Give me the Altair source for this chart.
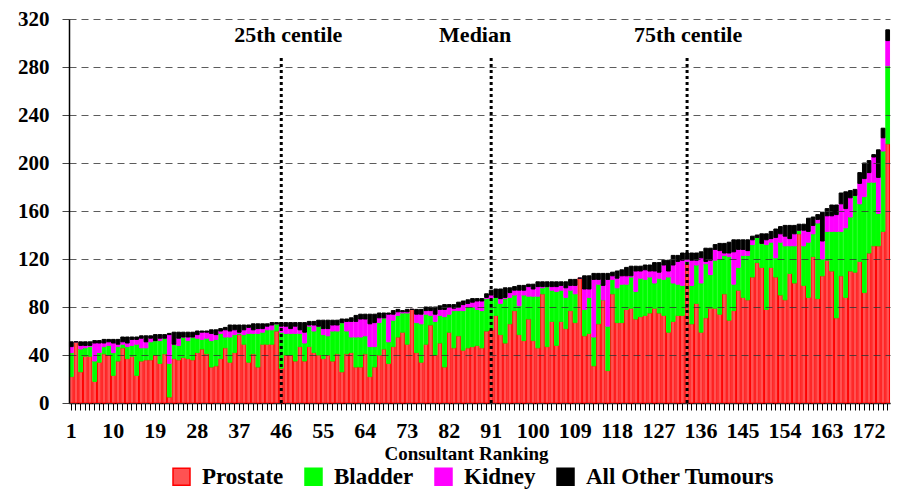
import altair as alt
import pandas as pd

ranks = list(range(1, 177))

prostate = [22,51,26,39,39, 18,34,41,40,23, 35,46,37,39,23, 35,36,36,40,33, 41,5,37,36,38, 37,36,42,45,41, 30,31,37,46,34, 42,57,49,34,41, 30,49,49,49,60,
            29,40,40,35,47, 35,47,42,40,37, 40,35,41,26,41, 42,30,30,41,22, 30,40,45,33,47, 55,59,49,78,42, 34,49,65,40,50, 30,59,46,56,44, 46,47,48,46,60,
            61,73,57,50,66, 77,57,52,70,52, 46,91,47,68,48, 68,62,77,67,104, 56,58,31,66,86, 27,91,67,67,78, 79,70,72,73,75, 79,75,73,59,68, 73,73,116,
            66,83,59,71,79, 79,74,91,69,77, 94,88,86,105,117, 113,78,113,105,90,
            86,108,100,141,98, 88,122,87,106,119, 110,71,106,88,110, 109,118,92,125,131, 131,143,216]
bladder = [20,0,19,7,8, 17,8,6,8,19, 12,3,10,9,26, 11,10,15,12,19, 13,28,12,12,17, 15,19,12,8,13, 22,22,21,9,21, 15,1,8,24,17, 28,10,12,12,6,
           30,18,18,23,11, 15,17,18,24,20, 16,25,19,41,19, 13,25,25,15,25, 17,27,26,18,22, 18,16,26,0,25, 32,25,8,28,23, 42,15,31,21,33, 34,33,30,31,27,
           26,15,26,37,22, 13,24,38,19,37, 43,5,50,26,45, 26,26,17,24,0, 22,30,24,33,0, 37,12,29,32,21, 26,23,32,30,30, 21,29,30,46,32, 26,25,2,
           32,32,41,45,28, 40,46,32,53,22, 19,35,37,27,21, 20,54,21,16,44,
           45,23,31,3,33, 46,19,63,14,24, 33,72,37,58,45, 64,48,80,59,53, 27,67,65]
kidney = [5,0,3,2,1, 15,8,3,3,8, 2,2,3,5,4, 8,5,3,0,2, 0,24,0,6,0, 3,0,3,6,5, 6,4,2,6,5, 4,1,4,5,3, 4,3,3,4,0,
          5,6,4,6,3, 9,1,5,0,5, 6,5,5,0,8, 13,13,15,14,19, 20,4,0,23,5, 3,1,1,0,7, 8,3,4,6,5, 6,6,2,3,5, 3,4,7,8,1,
          3,0,4,1,4, 4,13,4,8,6, 8,1,0,3,4, 4,8,4,7,0, 17,7,48,4,12, 39,3,8,7,7, 1,17,6,8,5, 10,5,12,5,15, 19,21,2,
          21,4,21,2,12, 9,7,2,3,27, 15,5,4,4,0, 0,4,3,17,7,
          8,6,10,0,13, 9,7,3,15,13, 13,14,23,16,16, 0,17,15,8,21, 30,11,21]
other = [4,0,3,3,3, 2,2,3,2,3, 4,4,5,2,2, 2,5,2,5,3, 3,1,10,5,4, 4,4,3,1,1, 3,4,2,2,5, 4,6,4,2,5, 4,4,2,2,1,
         3,3,5,3,6, 8,3,3,5,7, 7,4,4,3,2, 3,5,4,4,8, 7,4,4,1,3, 2,1,2,0,4, 4,3,3,6,3, 4,2,3,4,3, 3,3,2,2,3,
         4,7,8,8,4, 3,4,4,2,4, 4,4,4,4,4, 3,5,5,5,0, 11,11,5,5,10, 5,3,6,5,7, 8,4,4,4,5, 7,8,4,9,8, 5,6,5,
         6,6,5,11,10, 4,6,8,9,10, 8,8,9,3,2, 8,5,6,7,6,
         9,11,7,5,5, 11,7,4,24,6, 9,8,9,14,6, 5,9,13,10,2, 23,8,9]

series_names = ["Prostate", "Bladder", "Kidney", "All Other Tumours"]
fills = ["#ff5252", "#00ff00", "#ff00ff", "#000000"]
strokes = ["#ff0000", "#00ff00", "#ff00ff", "#000000"]

centile_ranks = [46, 91, 133]
centile_labels = ["25th centile", "Median", "75th centile"]
centile_dx = [7, -16, 1]

rows = []
for i, (name, vals) in enumerate(zip(series_names, [prostate, bladder, kidney, other])):
    for r, v in zip(ranks, vals):
        rows.append({"rank": r, "tumour": name, "value": v, "ord": i})
df = pd.DataFrame(rows)

FONT = "Liberation Serif"

xscale = alt.Scale(domain=ranks, paddingInner=0.2, paddingOuter=0.1)
yscale = alt.Scale(domain=[0, 320], nice=False)

legend_def = alt.Legend(title=None, orient="none", direction="horizontal",
                        legendX=101, legendY=446,
                        symbolType="square", symbolSize=289,
                        symbolStrokeWidth=1.5,
                        labelFont=FONT, labelFontSize=23,
                        labelFontWeight="bold", labelColor="black",
                        labelOffset=9, columnPadding=18, labelLimit=400)

bars = alt.Chart(df).mark_bar(strokeWidth=1).encode(
    x=alt.X("rank:O", scale=xscale, title="Consultant Ranking",
            axis=alt.Axis(labelExpr="(datum.value - 1) % 9 === 0 ? datum.label : ''",
                          labelAngle=0, labelOverlap=False, labelFlush=False,
                          tickSize=7, tickColor="black", tickWidth=1,
                          domainColor="black", domainWidth=1.5,
                          labelFont=FONT, labelFontSize=22, labelFontWeight="bold",
                          labelColor="black", labelPadding=10,
                          titleFont=FONT, titleFontSize=19, titleFontWeight="bold",
                          titleColor="black", titlePadding=3, titleX=397)),
    y=alt.Y("value:Q", stack="zero", scale=yscale, title=None,
            axis=alt.Axis(values=list(range(0, 321, 40)), grid=True, zindex=1,
                          gridDash=[7, 5], gridColor="#333333", gridWidth=1, gridOpacity=0.8,
                          tickSize=10, tickColor="#444444", tickDash=[7, 5],
                          domainColor="black", domainWidth=1.5,
                          labelFont=FONT, labelFontSize=21, labelFontWeight="bold",
                          labelColor="black", labelPadding=10)),
    color=alt.Color("tumour:N", scale=alt.Scale(domain=series_names, range=fills),
                    legend=legend_def),
    stroke=alt.Stroke("tumour:N", scale=alt.Scale(domain=series_names, range=strokes),
                      legend=legend_def),
    order=alt.Order("ord:Q", sort="ascending"),
)

cdf = pd.DataFrame({"rank": centile_ranks, "y0": [0] * 3, "y1": [288] * 3,
                    "label": centile_labels, "ty": [307] * 3})

rules = alt.Chart(cdf).mark_rule(color="black", strokeWidth=3, strokeDash=[3, 3]).encode(
    x=alt.X("rank:O", scale=xscale),
    y=alt.Y("y0:Q", scale=yscale),
    y2="y1:Q",
)

texts = []
for r, lab, dx in zip(centile_ranks, centile_labels, centile_dx):
    sub = cdf[cdf["rank"] == r]
    texts.append(alt.Chart(sub).mark_text(font=FONT, fontSize=22, fontWeight="bold",
                                          color="black", dx=dx, baseline="middle",
                                          align="center").encode(
        x=alt.X("rank:O", scale=xscale),
        y=alt.Y("ty:Q", scale=yscale),
        text="label:N"))

chart = alt.layer(bars, rules, *texts).properties(
    width=821, height=384,
    autosize=alt.AutoSizeParams(type="none"),
    padding={"left": 61, "top": 11, "right": 1, "bottom": 86},
).configure_view(stroke=None)

chart.save("out.html", embed_options={"renderer": "svg", "actions": False})
